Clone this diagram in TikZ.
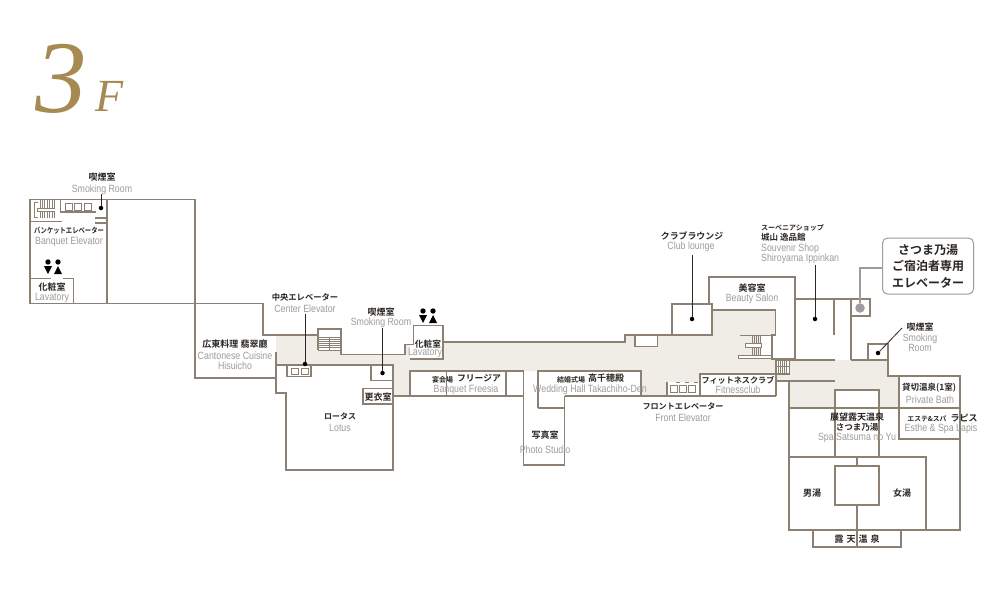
\documentclass[tikz,border=0pt]{standalone}
\usepackage{fontspec}
\setmainfont{Liberation Sans}
\newfontfamily\jpf{Noto Sans CJK JP Bold}
\newfontfamily\jpcf[FakeStretch=0.82]{Noto Sans CJK JP Bold}
\newfontfamily\enf[FakeStretch=0.84]{Liberation Sans}
\newfontfamily\serf{Liberation Serif}
\definecolor{wall}{HTML}{8C8072}
\definecolor{floorc}{HTML}{F0EDE6}
\definecolor{gold}{HTML}{A68A52}
\definecolor{engray}{HTML}{9C9C9C}
\definecolor{jpdark}{HTML}{2B2622}
\tikzset{
 x=1pt,y=-1pt,
 w/.style={draw=wall,line width=1.4pt,line join=miter},
 thin wall/.style={draw=wall,line width=.9pt},
 jp/.style={font=\jpf\fontsize{#1}{#1}\selectfont,text=jpdark,inner sep=0pt,yshift=-.5pt},
 jp/.default=9,
 jpc/.style={font=\jpcf\fontsize{#1}{#1}\selectfont,text=jpdark,inner sep=0pt,yshift=-.5pt},
 en/.style={font=\enf\fontsize{10.5}{10.5}\selectfont,text=engray,inner sep=0pt,yshift=-1pt},
 leader/.style={draw=jpdark,line width=.8pt},
 spot/.style={circle,fill=black,inner sep=0pt,minimum size=4.5pt},
}
\newcommand{\manicon}[2]{\fill[black] (#1,#2) circle (2.7);\fill[black] (#1-4,#2+4) -- (#1+4,#2+4) -- (#1,#2+12) -- cycle;}
\newcommand{\womanicon}[2]{\fill[black] (#1,#2) circle (2.7);\fill[black] (#1-4,#2+12) -- (#1+4,#2+12) -- (#1,#2+4) -- cycle;}
\begin{document}
\begin{tikzpicture}
\useasboundingbox (0,0) rectangle (1000,600);
\fill[white] (0,0) rectangle (1000,600);
% title
\node[font=\serf\itshape\fontsize{103}{103}\selectfont,text=gold,inner sep=0pt] (three) at (61,79) {3};
\node[font=\serf\itshape\fontsize{46}{46}\selectfont,text=gold,inner sep=0pt] (eff) at (109.5,96) {F};
% floor
\fill[floorc] (276,336) -- (318,336) -- (318,350) -- (341,350) -- (341,355) -- (405,355) -- (405,345) -- (414,345) -- (414,359) -- (443,359) -- (443,342) -- (625,342) -- (625,335) -- (712,335) -- (712,310) -- (775,310) -- (775,335) -- (772,335) -- (772,359) -- (795,359) -- (835,360) -- (888,360) -- (888,376) -- (899,376) -- (899,408) -- (789,408) -- (789,381) -- (776,381) -- (776,396) -- (393,396) -- (393,365) -- (276,365) -- cycle;
% white rooms on floor
\fill[white] (410,371) rectangle (523,396);
\fill[white] (523,371) rectangle (538,396);
\fill[white] (538,371) rectangle (641,396);
\fill[white] (635,335) rectangle (658,347);
\fill[white] (667,382) rectangle (700,396);
\fill[white] (700,374) rectangle (776,396);
\fill[white] (287,365) rectangle (311,377);
\fill[white] (835,390) rectangle (879,408);
\fill[white] (363,388) rectangle (393,404);
\fill[white] (410,345) rectangle (443,359);
\fill[white] (318,329) rectangle (341,350);
\fill[white] (772,335) rectangle (760,355);
\fill[white] (738,355) rectangle (772,358);
\fill[white] (776,360) rectangle (789,373);
% walls : left wing
\draw[w] (30,199.5) rectangle (195,303.5);
\draw[w] (107,199.5) -- (107,303.5);
\draw[w] (195,303.5) -- (195,378) -- (276,378);
\draw[w] (195,303.5) -- (263,303.5) -- (263,335) -- (318,335);
\draw[w] (276,352) -- (276,393) -- (286,393) -- (286,470) -- (393,470) -- (393,365) -- (276,365);
\draw[w] (30,221.5) -- (62,221.5);
\draw[w] (95,223) -- (107,223);
\draw[w] (95,218) -- (107,218);
\draw[w] (30,278.5) -- (51,278.5);
\draw[w] (63,278.5) -- (73.5,278.5) -- (73.5,303.5);
\draw[w] (60.5,200) -- (60.5,212) -- (96,212);
% stairs top-left
\draw[thin wall] (38,202) -- (34.5,202) -- (34.5,217) -- (38,217);
\foreach \k in {0,...,6}{\draw[wall,line width=.9pt] (40+\k*2.4,200) -- (40+\k*2.4,218);}
\fill[white] (37,208) rectangle (55,211.5);
\draw[wall,line width=.9pt] (55,208) -- (37,208) -- (37,211.5) -- (55,211.5);
\foreach \k in {0,1,2}{\draw[wall,line width=.9pt] (65+\k*9.6,203) rectangle +(7.2,7);}
% corridor walls
\draw[w] (318,350) -- (318,329) -- (341,329) -- (341,354.5) -- (405,354.5) -- (405,344.5) -- (413.5,344.5) -- (413.5,325.5) -- (443,325.5) -- (443,359) -- (410,359);
\draw[thin wall] (318,337) -- (341,337);
\foreach \k in {0,...,5}{\draw[wall,line width=.8pt] (319,339+\k*2.2) -- (340,339+\k*2.2);}
\draw[thin wall] (329.5,337) -- (329.5,350);
\draw[w] (318,350.5) -- (341,350.5);
\draw[w] (443,342) -- (625,342) -- (625,335) -- (672,335);
\draw[w] (635,335) -- (635,346.5) -- (657.5,346.5) -- (657.5,335);
\draw[w] (672,335) -- (672,304) -- (712,304) -- (712,335) -- (672,335);
\draw[w] (709,304) -- (709,277) -- (795,277) -- (795,359);
\draw[w] (712,310) -- (775.5,310) -- (775.5,335) -- (772,335) -- (772,359) -- (795,359);
% stair block
\draw[thin wall] (740,335) -- (772,335);
\foreach \k in {0,...,4}{\draw[wall,line width=.8pt] (752+\k*2,335) -- (752+\k*2,355);}
\fill[white] (745,343) rectangle (761,347);
\draw[thin wall] (745,343) rectangle (761,347);
\draw[thin wall] (738,355) rectangle (772,358.5);
% rooms low
\draw[w] (393,396) -- (523,396);
\draw[w] (410,396) -- (410,371) -- (523.5,371);
\draw[thin wall] (446.5,371) -- (446.5,396);
\draw[w] (506,371) -- (506,396);
\draw[w] (523.5,371) -- (523.5,465) -- (564.5,465) -- (564.5,396);
\draw[w] (538,408) -- (564.5,408);
\draw[w] (538,408) -- (538,371) -- (641,371) -- (641,396);
\draw[w] (564.5,396) -- (776,396);
\draw[w] (667,382) -- (667,396);
\foreach \k in {0,1,2}{\draw[wall,line width=.9pt] (670.5+\k*9,385) rectangle +(7,7);\draw[wall,line width=.7pt] (676+\k*9,382) -- +(4,0);}
\draw[w] (700,396) -- (700,374) -- (776,374) -- (776,396);
% bath block
\foreach \k in {0,...,4}{\draw[wall,line width=.8pt] (778+\k*2,360) -- (778+\k*2,373);}
\draw[wall,line width=.8pt] (776,366) -- (789,366);
\draw[w] (776,360) rectangle (789.5,374);
\draw[w] (776,381) -- (835,381);
\draw[w] (789,360) -- (835,360);
\draw[w] (851,360) -- (888,360);
\draw[w] (795,299) -- (851,299) -- (851,360);
\draw[w] (834,299) -- (834,335);
\draw[w] (851,299) -- (870,299) -- (870,316) -- (851,316);
\draw[w] (868,360) -- (868,344) -- (888,344) -- (888,376) -- (960,376) -- (960,530) -- (789,530) -- (789,381);
\draw[w] (899,376) -- (899,439) -- (960,439);
\draw[w] (789,408) -- (960,408);
\draw[w] (835,457) -- (835,390) -- (879,390) -- (879,457);
\draw[w] (789,457) -- (926,457) -- (926,530);
\draw[w] (835,466) rectangle (879,505);
\draw[w] (857,457) -- (857,466);
\draw[w] (857,505) -- (857,547);
\draw[w] (813,530) -- (813,547) -- (901,547) -- (901,530);
% small squares, alcoves
\draw[w] (287,365) -- (287,376.5) -- (311,376.5) -- (311,365);
\foreach \k in {0,1}{\draw[wall,line width=.9pt] (291+\k*10,368) rectangle +(7,6);}
\draw[w] (371,365) -- (371,380.5) -- (392,380.5);
\draw[w] (363,404) -- (363,388.5) -- (393,388.5) -- (393,404) -- cycle;
% icons
\manicon{48}{262}\womanicon{58}{262}
\manicon{423}{311}\womanicon{433}{311}
% leaders
\node[spot] (d1) at (101,208) {};
\coordinate (c1) at (101,194);
\draw[leader] (c1) -- (d1);
\node[spot] (d2) at (305,364) {};
\coordinate (c2) at (305,314);
\draw[leader] (c2) -- (d2);
\node[spot] (d3) at (382.5,373) {};
\coordinate (c3) at (382.5,328);
\draw[leader] (c3) -- (d3);
\node[spot] (d4) at (692,319) {};
\coordinate (c4) at (692,255);
\draw[leader] (c4) -- (d4);
\node[spot] (d5) at (815,319) {};
\coordinate (c5) at (815,265);
\draw[leader] (c5) -- (d5);
\node[spot] (d6) at (878,353) {};
\coordinate (c6) at (902,328);
\draw[leader] (c6) -- (d6);
% callout
\node[circle,fill=engray,inner sep=0pt,minimum size=9.5pt] (elev) at (860,308) {};
\node[draw=engray,line width=1pt,rounded corners=5pt,minimum width=91pt,minimum height=56pt,inner sep=0pt,align=center,font=\jpf\fontsize{12}{16.5}\selectfont,text=jpdark,fill=white] (call) at (928,266) {さつま乃湯\\ご宿泊者専用\\エレベーター};
\draw[engray,line width=1.2pt] (call.west |- 0,268) -| (elev);
% labels
\node[jp] (l1) at (102,177) {喫煙室};
\node[en] (e1) at (102,189) {Smoking Room};
\node[jpc=7.7] (l2) at (69,230) {バンケットエレベーター};
\node[en] (e2) at (69,241) {Banquet Elevator};
\node[jp] (l3) at (52,287) {化粧室};
\node[en] (e3) at (52,297) {Lavatory};
\node[jp] (l4) at (235,344) {広東料理 翡翠廳};
\node[en] (e4) at (235,355) {Cantonese Cuisine};
\node[en] (e4b) at (235,365) {Hisuicho};
\node[jp=8.3] (l5) at (305,297) {中央エレベーター};
\node[en] (e5) at (305,308) {Center Elevator};
\node[jp] (l6) at (381,312) {喫煙室};
\node[en] (e6) at (381,322) {Smoking Room};
\node[jp=8.7] (l7) at (428,344) {化粧室};
\node[en] (e7) at (425,352) {Lavatory};
\node[jp=7] (l8a) at (442.5,379) {宴会場};
\node[jp=8.8] (l8) at (479,378) {フリージア};
\node[en] (e8) at (466,389) {Banquet Freesia};
\node[jp=7] (l9a) at (571,379) {結婚式場};
\node[jp] (l9) at (606,378) {高千穂殿};
\node[en] (e9) at (590,389) {Wedding Hall Takachiho-Den};
\node[jp] (l10) at (545,435) {写真室};
\node[en] (e10) at (545,449) {Photo Studio};
\node[jp=8] (l11) at (340,416) {ロータス};
\node[en] (e11) at (340,427) {Lotus};
\node[jp] (l12) at (378,397) {更衣室};
\node[jp=8.9] (l13) at (692,235) {クラブラウンジ};
\node[en] (e13) at (691,246) {Club lounge};
\node[jp] (l14) at (752,288) {美容室};
\node[en] (e14) at (752,298) {Beauty Salon};
\node[jp=7,anchor=west] (l15a) at (761,227) {スーベニアショップ};
\node[jp=8.5,anchor=west] (l15) at (761,237) {城山 逸品館};
\node[en,anchor=west] (e15) at (761,248) {Souvenir Shop};
\node[en,anchor=west] (e15b) at (761,258) {Shiroyama Ippinkan};
\node[jp] (l16) at (920,327) {喫煙室};
\node[en] (e16) at (920,338) {Smoking};
\node[en] (e16b) at (920,347) {Room};
\node[jp=8.5] (l17) at (929,387) {貸切温泉(1室)};
\node[en] (e17) at (930,399) {Private Bath};
\node[jp=6.8] (l18a) at (927,418) {エステ\&スパ};
\node[jp] (l18) at (964,418) {ラピス};
\node[en] (e18) at (941,428) {Esthe \& Spa Lapis};
\node[jp] (l19) at (857,417) {展望露天温泉};
\node[jp=8.5] (l19b) at (857,427) {さつま乃湯};
\node[en] (e19) at (857,437) {Spa Satsuma no Yu};
\node[jp] (l20) at (812,493) {男湯};
\node[jp] (l21) at (902,493) {女湯};
\node[jp] (l22) at (857,539) {露\,\,天\,\,温\,\,泉};
\node[jp=8.1] (l23) at (738,380) {フィットネスクラブ};
\node[en] (e23) at (738,389) {Fitnessclub};
\node[jp=8.1] (l24) at (683,406) {フロントエレベーター};
\node[en] (e24) at (683,417) {Front Elevator};
\end{tikzpicture}
\end{document}
